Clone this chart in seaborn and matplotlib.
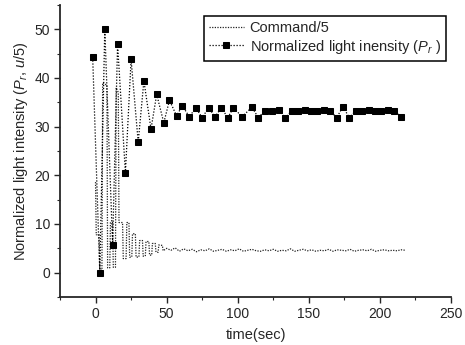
import seaborn as sns
import matplotlib.pyplot as plt
import pandas as pd

# Normalized light intensity (P_r), sampled roughly every 4.5 s
pr_time = [-2, 3, 6.5, 12, 15.5, 21, 25, 30, 34, 39, 43, 48, 52, 57, 61, 66,
           70.5, 75, 79.5, 84, 88.5, 93, 97, 103, 110, 114.5, 119, 124, 129,
           133.5, 138, 142.5, 147, 151.5, 156, 160.5, 165, 169.5, 174, 178.5,
           183, 187.5, 192, 196.5, 201, 205.5, 210, 215]
pr_value = [44.2, 0.0, 50.1, 5.7, 46.9, 20.5, 43.8, 26.8, 39.4, 29.5, 36.6,
            30.8, 35.4, 32.2, 34.3, 32.0, 33.9, 31.8, 33.9, 32.0, 33.9, 31.8,
            33.9, 32.0, 34.0, 31.8, 33.3, 33.2, 33.4, 31.8, 33.3, 33.2, 33.4,
            33.3, 33.2, 33.4, 33.3, 31.8, 34.1, 31.8, 33.3, 33.2, 33.4, 33.3,
            33.2, 33.4, 33.3, 32.0]

# Command/5 (controller output scaled by 1/5)
cmd_time = [0, 0.5, 2.5, 3, 4.5, 5, 8, 8.5, 10, 10.5, 12, 12.5, 14, 14.5, 16,
            16.5, 19, 19.5, 21.5, 22, 23.5, 24, 25.5, 26, 28, 28.5, 30.5, 31,
            33, 33.5, 35, 35.5, 37.5, 38, 39.5, 40, 42, 42.5, 44, 44.5, 47,
            47.5, 50, 53, 56, 59, 62, 65, 68, 71, 74, 77, 80, 83, 86, 89, 92,
            95, 98, 101, 104, 107, 110, 113, 116, 119, 122, 125, 128, 131, 134,
            137, 140, 143, 146, 149, 152, 155, 158, 161, 164, 167, 170, 173,
            176, 179, 182, 185, 188, 191, 194, 197, 200, 203, 206, 209, 212,
            215, 218]
cmd_value = [18.6, 7.8, 7.8, 0.5, 0.5, 39.0, 38.5, 1.0, 1.0, 10.3, 10.3, 1.1,
             1.1, 38.0, 37.0, 10.3, 10.3, 2.9, 2.9, 10.3, 10.3, 3.2, 3.2, 8.0,
             8.0, 3.2, 3.2, 6.6, 6.6, 3.4, 3.4, 6.4, 6.4, 3.6, 3.6, 6.0, 6.0,
             4.2, 4.2, 5.7, 5.6, 4.5, 5.0, 4.6, 5.1, 4.4, 4.9, 4.5, 4.8, 4.3,
             4.7, 4.5, 4.9, 4.4, 4.6, 4.8, 4.4, 4.7, 4.5, 4.9, 4.4, 4.6, 4.8,
             4.5, 4.4, 4.7, 4.5, 4.8, 4.4, 4.6, 4.5, 4.9, 4.4, 4.6, 4.8, 4.5,
             4.7, 4.4, 4.6, 4.5, 4.8, 4.4, 4.7, 4.6, 4.5, 4.8, 4.4, 4.6, 4.7,
             4.5, 4.8, 4.4, 4.6, 4.7, 4.5, 4.6, 4.5, 4.7, 4.6]

x_ticks = [0, 50, 100, 150, 200, 250]
y_ticks = [0, 10, 20, 30, 40, 50]

sns.set_style("ticks")
plt.rcParams['font.family'] = ['Liberation Sans', 'DejaVu Sans']
plt.rcParams['mathtext.fontset'] = 'custom'
plt.rcParams['mathtext.it'] = 'Liberation Sans:italic'
plt.rcParams['mathtext.rm'] = 'Liberation Sans'

cmd_df = pd.DataFrame({'t': cmd_time, 'v': cmd_value})
pr_df = pd.DataFrame({'t': pr_time, 'v': pr_value})

fig = plt.figure(figsize=(4.65, 3.45), dpi=100)
ax = fig.add_axes([0.129, 0.139, 0.841, 0.847])

# Command line (fine dots)
sns.lineplot(data=cmd_df, x='t', y='v', ax=ax, estimator=None, sort=False,
             color='#222222', lw=0.9, linestyle=(0, (1, 1.1)),
             label='Command/5')
# Light intensity with square markers
sns.lineplot(data=pr_df, x='t', y='v', ax=ax, estimator=None, sort=False,
             color='black', lw=0.9, linestyle=(0, (1, 1.4)), marker='s',
             markersize=3.8, markeredgecolor='black', markerfacecolor='black',
             label='Normalized light inensity ($P_r$ )')

ax.set_xlim(-25, 250)
ax.set_ylim(-5, 55)
ax.set_xticks(x_ticks)
ax.set_yticks(y_ticks)
ax.set_xticks([-25, 25, 75, 125, 175, 225], minor=True)
ax.set_yticks([-5, 5, 15, 25, 35, 45, 55], minor=True)
ax.tick_params(axis='both', which='major', labelsize=10, length=4, width=1,
               direction='out', pad=3)
ax.tick_params(axis='both', which='minor', length=2.5, width=0.8)
for side in ['top', 'right']:
    ax.spines[side].set_visible(False)
for side in ['left', 'bottom']:
    ax.spines[side].set_linewidth(1.3)

ax.set_xlabel('time(sec)', fontsize=10.5, labelpad=5)
ax.set_ylabel('Normalized light intensity ($P_r$, $u/5$)', fontsize=10.5,
              labelpad=3)

leg = ax.legend(loc='upper right', bbox_to_anchor=(453 / 465, 1 - 9 / 345),
                bbox_transform=fig.transFigure, fontsize=10.5, frameon=True,
                fancybox=False, edgecolor='black', framealpha=1,
                handlelength=2.4, handletextpad=0.4, borderpad=0.35,
                labelspacing=0.15)
leg.get_frame().set_linewidth(1.1)

fig.savefig('out.png', dpi=100)
